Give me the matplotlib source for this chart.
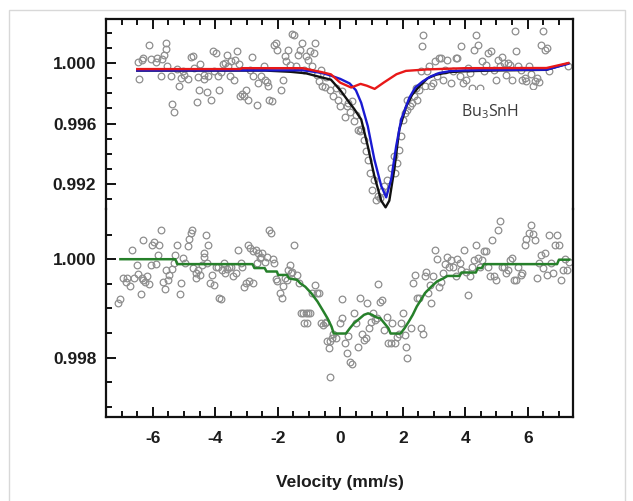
import matplotlib
matplotlib.use("Agg")
import matplotlib.pyplot as plt
from matplotlib.ticker import FixedLocator, MultipleLocator, FormatStrFormatter
from matplotlib.patches import Rectangle

# ---- Bu3SnH spectrum (upper panel) ----
top_v = [-6.48, -6.43, -6.35, -6.30, -6.13, -6.07, -5.91, -5.87, -5.74, -5.70,
         -5.65, -5.57, -5.58, -5.54, -5.41, -5.38, -5.31, -5.22, -5.15, -5.09,
         -5.02, -5.00, -4.89, -4.79, -4.70, -4.67, -4.60, -4.57, -4.53, -4.48,
         -4.37, -4.35, -4.28, -4.24, -4.14, -4.09, -4.05, -3.98, -3.92, -3.88,
         -3.83, -3.76, -3.69, -3.63, -3.59, -3.53, -3.49, -3.40, -3.36, -3.31,
         -3.23, -3.20, -3.14, -3.07, -3.01, -2.94, -2.88, -2.84, -2.79, -2.68,
         -2.62, -2.53, -2.45, -2.42, -2.36, -2.32, -2.27, -2.19, -2.12, -2.06,
         -2.01, -1.90, -1.84, -1.77, -1.75, -1.67, -1.60, -1.54, -1.49, -1.41,
         -1.36, -1.28, -1.23, -1.15, -1.10, -1.02, -0.97, -0.89, -0.84, -0.80,
         -0.73, -0.67, -0.63, -0.58, -0.50, -0.45, -0.34, -0.24, -0.15, -0.08,
         -0.02, 0.07, 0.15, 0.20, 0.25, 0.31, 0.37, 0.44, 0.50, 0.57,
         0.63, 0.67, 0.76, 0.83, 0.89, 0.96, 1.02, 1.09, 1.15, 1.22,
         1.28, 1.35, 1.41, 1.50, 1.61, 1.71, 1.76, 1.80, 1.87, 1.93,
         2.00, 2.06, 2.13, 2.15, 2.23, 2.28, 2.36, 2.41, 2.45, 2.52,
         2.58, 2.62, 2.65, 2.71, 2.78, 2.84, 2.91, 2.97, 3.04, 3.10,
         3.17, 3.23, 3.30, 3.36, 3.43, 3.53, 3.62, 3.69, 3.75, 3.82,
         3.88, 3.92, 4.01, 4.08, 4.14, 4.21, 4.27, 4.34, 4.40, 4.47,
         4.53, 4.60, 4.66, 4.73, 4.83, 4.92, 4.99, 5.05, 5.12, 5.18,
         5.25, 5.31, 5.38, 5.44, 5.51, 5.59, 5.64, 5.70, 5.77, 5.83,
         5.90, 5.96, 6.03, 6.09, 6.16, 6.22, 6.29, 6.35, 6.42, 6.48,
         6.55, 6.61, 6.68, 7.30]
top_t = [1.00004, 0.99896, 1.00018, 1.00031, 1.00121, 1.00026, 1.00007, 1.00033, 0.99916, 1.00026,
         1.00053, 1.00132, 1.00093, 0.99982, 0.99912, 0.99731, 0.99678, 0.99963, 0.99850, 0.99901,
         0.99945, 0.99923, 0.99896, 1.00037, 1.00048, 0.99967, 0.99742, 0.99905, 0.99824, 0.99996,
         0.99896, 0.99923, 0.99806, 0.99916, 0.99758, 1.00077, 0.99945, 1.00066, 0.99916, 0.99824,
         0.99941, 0.99996, 1.00000, 1.00055, 0.99978, 0.99916, 1.00011, 0.99890, 1.00022, 1.00077,
         0.99996, 0.99780, 0.99795, 0.99780, 0.99824, 0.99758, 0.99956, 1.00040, 0.99916, 0.99725,
         0.99868, 0.99912, 0.99978, 0.99890, 0.99872, 0.99846, 0.99758, 0.99747, 1.00121, 1.00132,
         1.00088, 0.99819, 0.99890, 1.00044, 1.00011, 1.00088, 0.99989, 1.00192, 1.00187, 0.99978,
         1.00055, 1.00084, 1.00132, 0.99952, 1.00048, 1.00018, 1.00077, 0.99978, 1.00066, 1.00132,
         0.99923, 0.99879, 0.99952, 0.99846, 0.99841, 0.99907, 0.99824, 0.99780, 0.99835, 0.99758,
         0.99718, 0.99813, 0.99643, 0.99714, 0.99736, 0.99674, 0.99747, 0.99615, 0.99659, 0.99559,
         0.99548, 0.99564, 0.99493, 0.99416, 0.99361, 0.99273, 0.99163, 0.99229, 0.99097, 0.99119,
         0.99108, 0.99152, 0.99185, 0.99229, 0.99306, 0.99383, 0.99273, 0.99339, 0.99427, 0.99515,
         0.99626, 0.99670, 0.99692, 0.99758, 0.99714, 0.99736, 0.99780, 0.99835, 0.99753, 0.99824,
         0.99945, 1.00110, 1.00187, 0.99846, 0.99945, 0.99978, 0.99846, 0.99868, 1.00011, 0.99912,
         1.00033, 1.00031, 0.99890, 0.99956, 1.00022, 0.99868, 0.99945, 1.00033, 1.00033, 0.99916,
         1.00115, 0.99868, 0.99890, 0.99967, 0.99934, 0.99835, 1.00088, 1.00187, 1.00121, 0.99835,
         1.00011, 0.99945, 0.99989, 1.00066, 1.00077, 0.99956, 0.99890, 1.00022, 0.99978, 1.00040,
         1.00000, 0.99923, 1.00000, 0.99989, 0.99890, 1.00209, 1.00077, 0.99978, 0.99956, 0.99890,
         0.99901, 0.99879, 0.99978, 0.99930, 0.99846, 0.99879, 0.99901, 0.99872, 1.00121, 1.00209,
         1.00088, 1.00099, 0.99945, 0.99978]

# total fit and its two sub-spectra
fit_v = [-6.5, -2.4, -1.6, -1.1, -0.6, -0.3, 0.0, 0.25, 0.45, 0.67, 0.88, 1.09,
         1.31, 1.45, 1.57, 1.73, 1.89, 2.11, 2.3, 2.53, 2.8, 3.07, 3.5, 3.92,
         5.0, 6.6, 7.3]
fit_t = [0.99950, 0.99950, 0.99942, 0.99932, 0.99905, 0.99890, 0.99820, 0.99750,
         0.99695, 0.99627, 0.99451, 0.99254, 0.99090, 0.99046, 0.99090, 0.99298,
         0.99561, 0.99714, 0.99790, 0.99846, 0.99900, 0.99923, 0.99940, 0.99945,
         0.99951, 0.99955, 0.99998]

sub1_v = [-6.5, -1.2, -0.6, -0.35, 0.0, 0.3, 0.5, 0.67, 0.88, 1.09, 1.31, 1.47,
          1.63, 1.79, 1.95, 2.21, 2.4, 2.64, 2.9, 3.17, 3.5, 3.92, 5.0, 6.6, 7.3]
sub1_t = [0.99951, 0.99952, 0.99935, 0.99920, 0.99895, 0.99865, 0.99820, 0.99737,
          0.99583, 0.99364, 0.99188, 0.99112, 0.99232, 0.99451, 0.99627, 0.99770,
          0.99838, 0.99879, 0.99912, 0.99934, 0.99946, 0.99951, 0.99954, 0.99956,
          0.99995]

sub2_v = [-6.5, -3.2, -3.15, -1.2, -0.6, -0.3, 0.0, 0.35, 0.65, 0.85, 1.1, 1.4,
          1.8, 2.1, 2.8, 4.0, 6.6, 7.3]
sub2_t = [0.99960, 0.99960, 0.99966, 0.99966, 0.99940, 0.99925, 0.99870, 0.99838,
          0.99862, 0.99850, 0.99829, 0.99872, 0.99926, 0.99948, 0.99958, 0.99966,
          0.99967, 1.00000]

# ---- second spectrum (lower panel) ----
bot_v = [-7.11, -7.04, -6.95, -6.87, -6.82, -6.74, -6.68, -6.59, -6.52, -6.46,
         -6.39, -6.35, -6.33, -6.30, -6.26, -6.20, -6.13, -6.07, -6.03, -5.96,
         -5.91, -5.83, -5.80, -5.74, -5.67, -5.61, -5.57, -5.52, -5.48, -5.39,
         -5.31, -5.28, -5.22, -5.13, -5.09, -5.05, -4.96, -4.89, -4.84, -4.79,
         -4.74, -4.70, -4.63, -4.61, -4.57, -4.50, -4.44, -4.37, -4.35, -4.31,
         -4.27, -4.24, -4.18, -4.11, -4.05, -3.98, -3.92, -3.88, -3.83, -3.79,
         -3.72, -3.70, -3.62, -3.57, -3.49, -3.44, -3.33, -3.27, -3.18, -3.14,
         -3.07, -3.01, -2.94, -2.91, -2.88, -2.81, -2.79, -2.71, -2.68, -2.65,
         -2.58, -2.53, -2.49, -2.42, -2.36, -2.29, -2.23, -2.16, -2.12, -2.06,
         -2.01, -1.93, -1.88, -1.83, -1.77, -1.72, -1.67, -1.62, -1.58, -1.54,
         -1.49, -1.38, -1.32, -1.25, -1.19, -1.15, -1.10, -1.06, -1.02, -0.97,
         -0.89, -0.80, -0.73, -0.67, -0.63, -0.56, -0.50, -0.45, -0.41, -0.37,
         -0.34, -0.32, -0.28, -0.24, -0.15, -0.02, 0.05, 0.07, 0.15, 0.20,
         0.24, 0.31, 0.37, 0.44, 0.50, 0.57, 0.63, 0.70, 0.76, 0.83,
         0.85, 0.93, 0.98, 1.06, 1.11, 1.19, 1.22, 1.28, 1.32, 1.41,
         1.48, 1.54, 1.61, 1.67, 1.74, 1.80, 1.87, 1.93, 2.00, 2.06,
         2.10, 2.15, 2.26, 2.32, 2.39, 2.45, 2.52, 2.58, 2.65, 2.71,
         2.75, 2.80, 2.88, 2.91, 2.97, 3.04, 3.10, 3.17, 3.23, 3.30,
         3.36, 3.43, 3.49, 3.56, 3.62, 3.69, 3.75, 3.82, 3.88, 3.95,
         4.01, 4.08, 4.14, 4.21, 4.27, 4.34, 4.40, 4.47, 4.53, 4.60,
         4.66, 4.73, 4.79, 4.86, 4.92, 4.99, 5.05, 5.12, 5.18, 5.25,
         5.31, 5.38, 5.44, 5.51, 5.57, 5.64, 5.70, 5.77, 5.83, 5.90,
         5.96, 6.03, 6.09, 6.16, 6.22, 6.29, 6.35, 6.42, 6.48, 6.55,
         6.61, 6.68, 6.74, 6.81, 6.87, 6.94, 7.00, 7.07, 7.13, 7.20,
         7.26, 7.33]
bot_t = [0.99911, 0.99919, 0.99961, 0.99953, 0.99961, 0.99946, 1.00019, 0.99961, 0.99988, 0.99970,
         0.99929, 0.99961, 1.00039, 0.99958, 0.99953, 0.99966, 0.99949, 0.99988, 1.00029, 1.00034,
         0.99990, 1.00009, 1.00029, 1.00060, 0.99953, 0.99939, 0.99978, 0.99958, 0.99968, 0.99980,
         0.99992, 1.00009, 1.00029, 0.99929, 0.99951, 1.00002, 0.99992, 1.00026, 1.00041, 1.00053,
         1.00060, 0.99982, 0.99961, 0.99972, 0.99978, 0.99968, 0.99988, 1.00005, 1.00012, 1.00049,
         0.99992, 1.00029, 0.99951, 0.99968, 0.99948, 0.99985, 0.99984, 0.99921, 0.99919, 0.99978,
         0.99992, 0.99972, 0.99980, 0.99985, 0.99984, 0.99966, 0.99972, 1.00019, 0.99992, 0.99985,
         0.99944, 0.99951, 1.00029, 0.99955, 1.00022, 1.00016, 0.99951, 1.00018, 0.99992, 1.00012,
         1.00002, 1.00005, 1.00012, 0.99995, 1.00005, 1.00060, 1.00053, 1.00000, 0.99992, 0.99959,
         0.99955, 0.99931, 0.99922, 0.99946, 0.99961, 0.99958, 0.99978, 0.99988, 0.99972, 0.99973,
         1.00029, 0.99968, 0.99951, 0.99890, 0.99890, 0.99870, 0.99890, 0.99870, 0.99890, 0.99890,
         0.99931, 0.99948, 0.99931, 0.99931, 0.99870, 0.99866, 0.99871, 0.99873, 0.99833, 0.99820,
         0.99761, 0.99833, 0.99839, 0.99849, 0.99839, 0.99870, 0.99919, 0.99880, 0.99829, 0.99809,
         0.99844, 0.99792, 0.99788, 0.99890, 0.99870, 0.99822, 0.99921, 0.99849, 0.99835, 0.99839,
         0.99911, 0.99860, 0.99873, 0.99890, 0.99877, 0.99880, 0.99949, 0.99914, 0.99917, 0.99856,
         0.99883, 0.99829, 0.99829, 0.99871, 0.99829, 0.99841, 0.99849, 0.99870, 0.99890, 0.99846,
         0.99822, 0.99799, 0.99860, 0.99951, 0.99968, 0.99921, 0.99921, 0.99860, 0.99849, 0.99965,
         0.99975, 0.99931, 0.99948, 0.99911, 0.99966, 1.00019, 1.00000, 0.99944, 0.99953, 0.99972,
         0.99991, 1.00004, 0.99985, 0.99999, 0.99985, 0.99965, 1.00000, 0.99992, 0.99978, 1.00019,
         0.99975, 0.99927, 0.99965, 0.99985, 0.99999, 1.00029, 1.00002, 0.99985, 0.99999, 1.00016,
         1.00016, 0.99985, 0.99965, 1.00039, 0.99965, 0.99958, 1.00060, 1.00077, 0.99985, 0.99985,
         0.99972, 0.99978, 0.99999, 1.00002, 0.99958, 0.99958, 0.99985, 0.99968, 0.99972, 1.00029,
         1.00041, 1.00053, 1.00070, 1.00051, 1.00039, 0.99961, 0.99992, 1.00009, 0.99982, 1.00012,
         0.99968, 1.00049, 0.99992, 0.99972, 1.00029, 1.00049, 1.00029, 0.99958, 0.99978, 1.00000,
         0.99978, 0.99995]

# stepped fit of the lower spectrum
gfit_v = [-7.04, -5.28, -5.22, -2.81, -2.75, -2.42, -2.36, -2.03, -1.99, -1.71,
          -1.64, -1.38, -1.28, -1.12, -0.93, -0.73, -0.54, -0.41, -0.28, -0.21,
          0.18, 0.31, 0.44, 0.63, 0.76, 0.89, 1.02, 1.15, 1.28, 1.41,
          1.54, 1.61, 1.93, 2.06, 2.19, 2.32, 2.45, 2.58, 2.71, 2.91,
          3.10, 3.30, 3.43, 3.82, 3.88, 4.34, 4.40, 4.53, 4.60, 6.94,
          7.00, 7.33]
gfit_t = [1.00000, 1.00000, 0.99990, 0.99990, 0.99982, 0.99982, 0.99975, 0.99975, 0.99968, 0.99968,
          0.99961, 0.99958, 0.99951, 0.99944, 0.99931, 0.99914, 0.99894, 0.99880, 0.99863, 0.99849,
          0.99849, 0.99860, 0.99870, 0.99880, 0.99887, 0.99890, 0.99887, 0.99882, 0.99880, 0.99870,
          0.99860, 0.99849, 0.99849, 0.99860, 0.99873, 0.99887, 0.99904, 0.99917, 0.99931, 0.99944,
          0.99955, 0.99961, 0.99966, 0.99966, 0.99973, 0.99973, 0.99982, 0.99982, 0.99990, 0.99990,
          0.99999, 0.99999]

top_major = [0.992, 0.996, 1.000]
top_minor = [0.991, 0.992, 0.993, 0.994, 0.995, 0.996, 0.997, 0.998, 0.999, 1.000, 1.001, 1.002]
bot_major = [0.998, 1.000]
bot_minor = [0.9970, 0.9975, 0.9980, 0.9985, 0.9990, 0.9995, 1.0000, 1.0005]

plt.rcParams["font.family"] = ["Liberation Sans", "DejaVu Sans"]
plt.rcParams["axes.unicode_minus"] = False
plt.rcParams["mathtext.fontset"] = "custom"
plt.rcParams["mathtext.rm"] = "Open Sans"

W, H = 633, 501
fig = plt.figure(figsize=(W / 100, H / 100), dpi=100)

# light outer frame
fig.patches.append(Rectangle((9 / W, -0.02), 616 / W, 1.0 - 10 / H + 0.02,
                             transform=fig.transFigure, fill=False,
                             ec="#d8d8d8", lw=1.0))

left, width = 106 / W, 467 / W
ax1 = fig.add_axes([left, 1 - 209 / H, width, 190 / H])
ax2 = fig.add_axes([left, 1 - 416.7 / H, width, 207.7 / H])

XLIM = (-7.5, 7.45)
ink = "#1c1c1c"
pt_kw = dict(ls="none", marker="o", ms=4.8, mfc="none", mec="#8e8e8e", mew=0.9)

# upper panel
ax1.plot(top_v, top_t, zorder=2, **pt_kw)
ax1.add_patch(Rectangle((2.72, 0.9950), 4.05, 0.00322, fc="white", ec="none", zorder=2.5))
ax1.plot(fit_v, fit_t, color="#111111", lw=1.7, zorder=3)
ax1.plot(sub1_v, sub1_t, color="#1a1ad2", lw=1.7, zorder=4)
ax1.plot(sub2_v, sub2_t, color="#e81818", lw=1.7, zorder=5)
ax1.text(4.8, 0.99676, r"Bu$_\mathregular{3}$SnH", fontsize=11.5, family="Open Sans",
         color="#3a3a3a", ha="center", va="center", zorder=6)
ax1.set_xlim(*XLIM)
ax1.set_ylim(0.99035, 1.00291)
ax1.spines["bottom"].set_visible(False)
ax1.xaxis.tick_top()
ax1.tick_params(axis="x", labeltop=False)
ax1.yaxis.set_major_locator(FixedLocator(top_major))
ax1.yaxis.set_minor_locator(FixedLocator(top_minor))

# lower panel
ax2.plot(bot_v, bot_t, zorder=2, **pt_kw)
ax2.plot(gfit_v, gfit_t, color="#26802a", lw=1.8, zorder=3)
ax2.set_xlim(*XLIM)
ax2.set_ylim(0.99680, 1.00102)
ax2.spines["top"].set_visible(False)
ax2.xaxis.tick_bottom()
ax2.yaxis.set_major_locator(FixedLocator(bot_major))
ax2.yaxis.set_minor_locator(FixedLocator(bot_minor))
ax2.set_xlabel("Velocity (mm/s)", fontsize=12.5, fontweight="bold", color=ink, labelpad=21)

for ax in (ax1, ax2):
    for s in ax.spines.values():
        s.set_linewidth(1.6)
        s.set_color("#111111")
    ax.patch.set_alpha(0)
    ax.xaxis.set_major_locator(MultipleLocator(2))
    ax.xaxis.set_minor_locator(MultipleLocator(0.5))
    ax.yaxis.set_major_formatter(FormatStrFormatter("%.3f"))
    ax.tick_params(which="both", direction="in", width=1.4, color="#111111",
                   right=False, labelsize=12.5, labelcolor=ink)
    ax.tick_params(which="major", length=7)
    ax.tick_params(which="minor", length=4)
    ax.tick_params(axis="y", pad=7)
    ax.tick_params(axis="x", pad=10)
    for lab in ax.get_xticklabels() + ax.get_yticklabels():
        lab.set_fontweight("bold")

fig.savefig("out.png", dpi=100)
